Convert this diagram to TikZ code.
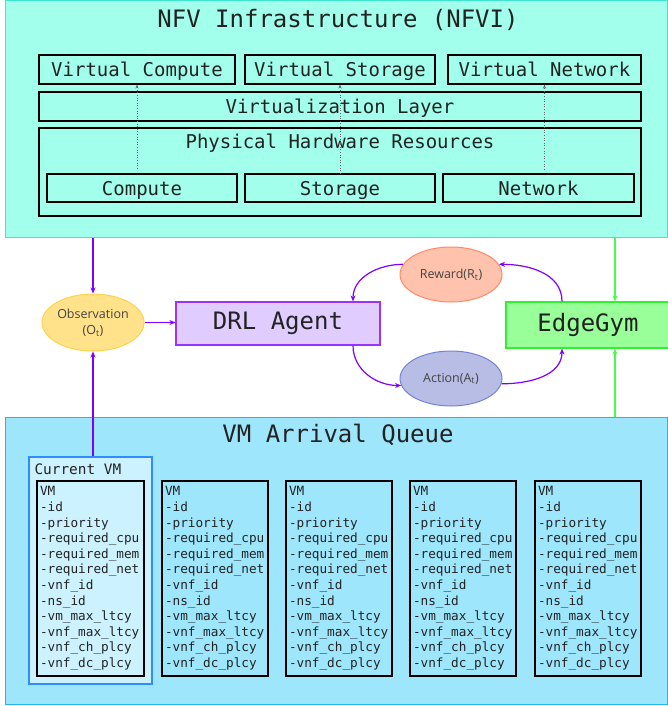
\documentclass[tikz,border=0pt]{standalone}
\usepackage{fontspec}
\setmainfont{Open Sans}
\newfontfamily\monof{DejaVu Sans Mono}
\usetikzlibrary{arrows.meta,shapes.geometric,calc}
\definecolor{nfvifill}{HTML}{A2FFEC}
\definecolor{nfviline}{HTML}{3EE6CC}
\definecolor{queuefill}{HTML}{9EE6FC}
\definecolor{queueline}{HTML}{22B6F0}
\definecolor{curfill}{HTML}{CCF2FF}
\definecolor{curline}{HTML}{2D8CFF}
\definecolor{drlfill}{HTML}{E0CCFF}
\definecolor{drlline}{HTML}{9933FF}
\definecolor{edgefill}{HTML}{99FF99}
\definecolor{edgeline}{HTML}{33EE33}
\definecolor{obsfill}{HTML}{FFE28A}
\definecolor{obsline}{HTML}{FFD24D}
\definecolor{rewfill}{HTML}{FFC2AD}
\definecolor{rewline}{HTML}{FF8A65}
\definecolor{actfill}{HTML}{B8BDE6}
\definecolor{actline}{HTML}{7283D4}
\definecolor{purp}{HTML}{8000FF}
\definecolor{grn}{HTML}{44FF44}
\definecolor{txt}{HTML}{222222}
\newcommand{\vmlist}{VM\\-id\\-priority\\-required\_cpu\\-required\_mem\\-required\_net\\-vnf\_id\\-ns\_id\\-vm\_max\_ltcy\\-vnf\_max\_ltcy\\-vnf\_ch\_plcy\\-vnf\_dc\_plcy}
\begin{document}
\begin{tikzpicture}[x=1pt,y=1pt,
  infbox/.style={draw=black, line width=1.1pt, fill=nfvifill, inner sep=0pt, text=txt,
    text height=14pt, text depth=0pt,
    font=\monof\fontsize{19}{22}\selectfont},
  vmbox/.style={draw=black, line width=1.1pt, minimum width=106pt, minimum height=195pt,
    text width=100pt, align=left, inner xsep=3pt, inner ysep=0pt, text=txt,
    font=\monof\fontsize{12.7}{15.6}\selectfont},
  bigtitle/.style={font=\monof\fontsize{24}{28}\selectfont, text=txt},
  ell/.style={ellipse, inner sep=0pt, line width=1pt, minimum width=102pt, minimum height=56pt,
    font=\fontsize{12.5}{16}\selectfont, text=txt!85!white, align=center},
  dotarr/.style={draw=black!60, line width=0.6pt, dotted, -{Stealth[length=4pt,width=3pt]}},
  parr/.style={draw=purp, line width=1.2pt, -{Stealth[length=6pt,width=5pt]}},
  garr/.style={draw=grn, line width=1.2pt, -{Stealth[length=6pt,width=5pt]}}]
\useasboundingbox (0,0) rectangle (668,-706);

% NFVI
\node[draw=nfviline, fill=nfvifill, line width=1pt, minimum width=662pt, minimum height=236pt, inner sep=0pt] (nfvi) at (336,-119) {};
\node[bigtitle] (nfvititle) at (338,-20) {NFV Infrastructure (NFVI)};
\node[infbox, minimum width=196pt, minimum height=29pt] (vcomp) at (137,-69.5) {Virtual Compute};
\node[infbox, minimum width=190pt, minimum height=29pt] (vstor) at (340,-69.5) {Virtual Storage};
\node[infbox, minimum width=193pt, minimum height=29pt] (vnet) at (544.5,-69.5) {Virtual Network};
\node[infbox, minimum width=602pt, minimum height=29pt] (virt) at (340,-106.5) {Virtualization Layer};
\node[infbox, minimum width=602pt, minimum height=88pt] (phys) at (340,-172) {};
\node[text=txt, font=\monof\fontsize{19}{22}\selectfont] (physlbl) at (340,-143) {Physical Hardware Resources};
\node[infbox, minimum width=190pt, minimum height=28pt] (comp) at (142,-188) {Compute};
\node[infbox, minimum width=190pt, minimum height=28pt] (stor) at (340,-188) {Storage};
\node[infbox, minimum width=191pt, minimum height=28pt] (netw) at (538.5,-188) {Network};
\draw[dotarr] ($(vcomp.south |- comp.north)+(0,5)$) -- (vcomp.south);
\draw[dotarr] (vstor.south |- stor.north) -- (vstor.south);
\draw[dotarr] ($(vnet.south |- netw.north)+(0,4)$) -- (vnet.south);

% Queue
\node[draw=queueline, fill=queuefill, line width=1pt, minimum width=662pt, minimum height=287pt, inner sep=0pt] (queue) at (336,-560.5) {};
\node[bigtitle] (queuetitle) at (338,-435) {VM Arrival Queue};
\node[draw=curline, fill=curfill, line width=1.2pt, minimum width=123pt, minimum height=227pt, inner sep=0pt] (curvm) at (90.5,-570.5) {};
\node[anchor=west, text=txt, font=\monof\fontsize{14.4}{16}\selectfont] (curlbl) at (31,-469) {Current VM};
\node[vmbox, minimum width=107pt, text width=101pt] (vm1) at (90.5,-578.5) {\vmlist};
\node[vmbox] (vm2) at (215,-578.5) {\vmlist};
\node[vmbox] (vm3) at (339,-578.5) {\vmlist};
\node[vmbox] (vm4) at (463,-578.5) {\vmlist};
\node[vmbox] (vm5) at (588,-578.5) {\vmlist};

% Middle
\node[ell, draw=obsline, fill=obsfill, minimum height=57pt] (obs) at (93,-322.5) {Observation\\(O\textsubscript{t})};
\node[draw=drlline, fill=drlfill, line width=1.2pt, minimum width=204pt, minimum height=43pt, inner sep=0pt, bigtitle] (drl) at (278,-323.5) {DRL Agent};
\node[ell, draw=rewline, fill=rewfill, minimum height=55pt] (reward) at (451,-274.5) {Reward(R\textsubscript{t})};
\node[ell, draw=actline, fill=actfill, minimum height=55pt] (action) at (451,-378.5) {Action(A\textsubscript{t})};
\node[draw=edgeline, fill=edgefill, line width=1.2pt, minimum width=164pt, minimum height=46pt, inner sep=0pt, bigtitle] (edge) at (588,-325) {EdgeGym};

\coordinate (gx) at (615,0);
\coordinate (px) at (353,0);
\coordinate (ex) at (562,0);

\draw[parr] (nfvi.south -| obs.north) -- (obs.north);
\draw[parr] (curvm.north -| obs.south) -- (obs.south);
\draw[parr] (obs.east) -- (drl.west |- obs.east);
\draw[parr] (drl.south -| px) to[out=-90,in=180] (action.188);
\draw[parr] (action.-6) to[out=0,in=-90] (edge.south -| ex);
\draw[parr] (edge.north -| ex) to[out=90,in=0] (reward.12);
\draw[parr] (reward.168) to[out=180,in=90] (drl.north -| px);
\draw[garr] (nfvi.south -| gx) -- (edge.north -| gx);
\draw[garr] (queue.north -| gx) -- (edge.south -| gx);
\end{tikzpicture}
\end{document}
